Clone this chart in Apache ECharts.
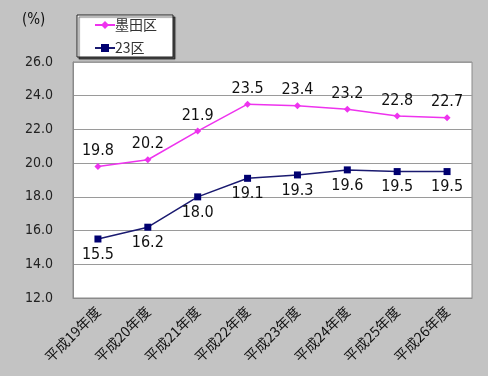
<!DOCTYPE html>
<html>
<head>
<meta charset="utf-8">
<script src="https://cdn.jsdelivr.net/npm/echarts@6/dist/echarts.min.js"></script>
<style>
  html, body { margin: 0; padding: 0; background: #c3c3c3; }
  #chart { width: 488px; height: 376px; }
</style>
</head>
<body>
<div id="chart"></div>
<script>
// Fiscal years (Heisei era)
const categories = ['平成19年度', '平成20年度', '平成21年度', '平成22年度', '平成23年度', '平成24年度', '平成25年度', '平成26年度'];
// Percentages for Sumida ward and the 23-ward average
const sumidaValues = [19.8, 20.2, 21.9, 23.5, 23.4, 23.2, 22.8, 22.7];
const wards23Values = [15.5, 16.2, 18.0, 19.1, 19.3, 19.6, 19.5, 19.5];
const seriesNames = ['墨田区', '23区'];
const yTicks = { min: 12, max: 26, interval: 2 };

const cjkFont = '"Noto Sans CJK JP", "Liberation Sans", sans-serif';
const numFont = '"DejaVu Sans Condensed", "Liberation Sans", sans-serif';
const chart = echarts.init(document.getElementById('chart'), null, { renderer: 'canvas' });

chart.setOption({
  backgroundColor: '#c3c3c3',
  animation: false,
  textStyle: { fontFamily: cjkFont },
  graphic: [{
    type: 'text',
    left: 22,
    top: 13,
    style: { text: '(%)', fontSize: 15, fill: '#111', fontFamily: numFont }
  }],
  legend: {
    orient: 'vertical',
    left: 77,
    top: 15,
    padding: [3, 16, 2, 17],
    itemGap: 9,
    itemWidth: 20,
    itemHeight: 10,
    backgroundColor: '#ffffff',
    borderColor: '#222',
    borderWidth: 1,
    borderRadius: 0,
    shadowColor: 'rgba(0,0,0,0.6)',
    shadowBlur: 1,
    shadowOffsetX: 2,
    shadowOffsetY: 2,
    textStyle: { fontSize: 14, lineHeight: 14, color: '#333', padding: [0, 0, 0, -5] },
    data: seriesNames
  },
  grid: {
    left: 73,
    right: 16,
    top: 62,
    bottom: 78,
    show: true,
    backgroundColor: '#ffffff',
    borderColor: '#8a8a8a',
    borderWidth: 1
  },
  xAxis: {
    type: 'category',
    data: categories,
    boundaryGap: true,
    axisLine: { lineStyle: { color: '#8a8a8a' } },
    axisTick: { inside: true, length: 4, lineStyle: { color: '#8a8a8a' } },
    axisLabel: { rotate: 45, fontSize: 14, color: '#111', margin: 11 }
  },
  yAxis: {
    type: 'value',
    min: yTicks.min,
    max: yTicks.max,
    interval: yTicks.interval,
    axisLine: { show: true, lineStyle: { color: '#8a8a8a' } },
    axisTick: { show: false },
    splitLine: { lineStyle: { color: '#9a9a9a', width: 1 } },
    axisLabel: {
      fontSize: 14,
      fontFamily: numFont,
      color: '#222',
      margin: 20,
      formatter: v => v.toFixed(1)
    }
  },
  series: [
    {
      name: seriesNames[0],
      type: 'line',
      data: sumidaValues,
      symbol: 'diamond',
      symbolSize: 7,
      itemStyle: { color: '#ee33ee' },
      lineStyle: { color: '#ee33ee', width: 1.5 },
      label: {
        show: true,
        position: 'top',
        distance: 4,
        fontSize: 16,
        fontFamily: numFont,
        color: '#111',
        formatter: p => p.value.toFixed(1)
      }
    },
    {
      name: seriesNames[1],
      type: 'line',
      data: wards23Values,
      symbol: 'rect',
      symbolSize: 7,
      itemStyle: { color: '#000070' },
      lineStyle: { color: '#1a1a70', width: 1.5 },
      label: {
        show: true,
        position: 'bottom',
        distance: 4,
        fontSize: 16,
        fontFamily: numFont,
        color: '#111',
        formatter: p => p.value.toFixed(1)
      }
    }
  ]
});
</script>
</body>
</html>
